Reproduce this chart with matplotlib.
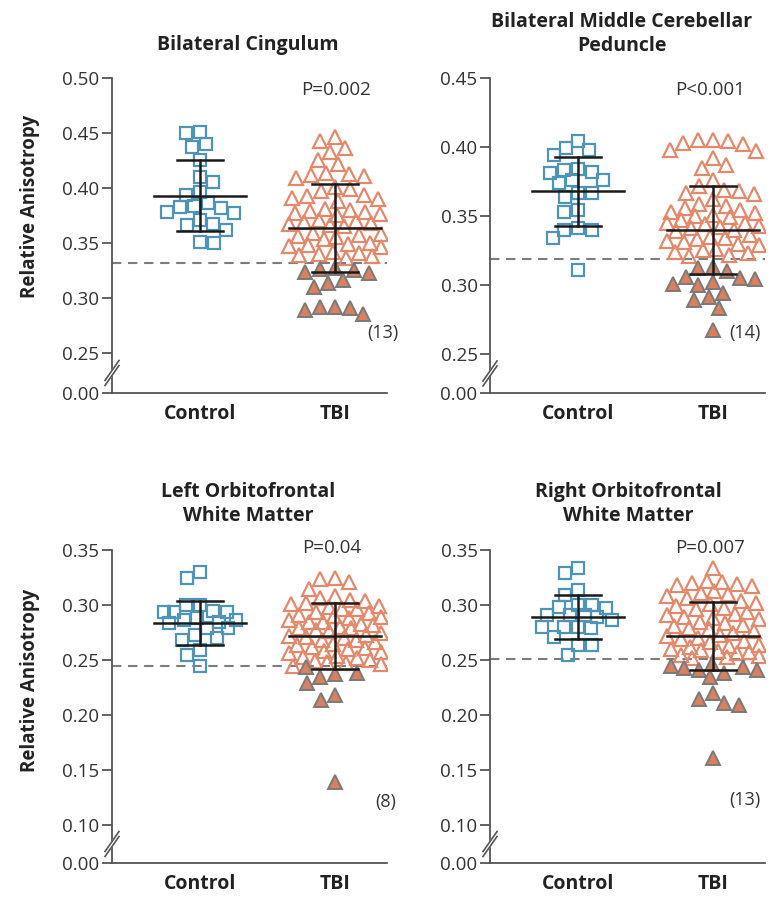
import numpy as np
import matplotlib
matplotlib.use("Agg")
import matplotlib.pyplot as plt

plt.rcParams['font.family'] = ['Open Sans', 'DejaVu Sans']

# ---------------- data ----------------
titles = ["Bilateral Cingulum",
          "Bilateral Middle Cerebellar\nPeduncle",
          "Left Orbitofrontal\nWhite Matter",
          "Right Orbitofrontal\nWhite Matter"]
categories = ["Control", "TBI"]
p_labels = ["P=0.002", "P<0.001", "P=0.04", "P=0.007"]
abnormal_labels = ["(13)", "(14)", "(8)", "(13)"]
thresholds = [0.332, 0.319, 0.2445, 0.251]

ctrl_cingulum = [0.451, 0.450, 0.440, 0.437, 0.425, 0.410, 0.405, 0.396, 0.394, 0.384, 0.386,
                 0.383, 0.382, 0.377, 0.378, 0.371, 0.367, 0.362, 0.366, 0.351, 0.350]
tbi_open_cingulum = [0.446, 0.443, 0.436, 0.433, 0.425, 0.422, 0.414, 0.412, 0.411, 0.413,
                     0.409, 0.401, 0.399, 0.397, 0.393, 0.391, 0.394, 0.388, 0.390, 0.380,
                     0.378, 0.377, 0.381, 0.375, 0.379, 0.376, 0.369, 0.367, 0.371, 0.366,
                     0.368, 0.365, 0.370, 0.358, 0.356, 0.359, 0.355, 0.357, 0.354, 0.349,
                     0.347, 0.350, 0.346, 0.348, 0.341, 0.339, 0.338, 0.342, 0.336, 0.340]
tbi_low_cingulum = [0.327, 0.325, 0.324, 0.326, 0.323, 0.316, 0.314, 0.310,
                    0.292, 0.291, 0.292, 0.285, 0.289]

ctrl_mcp = [0.404, 0.399, 0.398, 0.394, 0.383, 0.381, 0.382, 0.384, 0.374, 0.376, 0.376,
            0.364, 0.367, 0.367, 0.353, 0.354, 0.340, 0.340, 0.334, 0.341, 0.311]
tbi_open_mcp = [0.405, 0.404, 0.403, 0.405, 0.402, 0.397, 0.398, 0.392, 0.387, 0.385,
                0.376, 0.372, 0.368, 0.369, 0.366, 0.367, 0.362, 0.359, 0.357, 0.353,
                0.354, 0.352, 0.349, 0.350, 0.356, 0.351, 0.347, 0.345, 0.343, 0.342,
                0.340, 0.345, 0.341, 0.339, 0.344, 0.336, 0.334, 0.333, 0.330, 0.331,
                0.335, 0.329, 0.332, 0.326, 0.324, 0.323, 0.325, 0.321, 0.322]
tbi_low_mcp = [0.313, 0.312, 0.302, 0.305, 0.300, 0.304, 0.301, 0.289, 0.294, 0.291,
               0.283, 0.267, 0.310, 0.306]

ctrl_lofc = [0.330, 0.325, 0.300, 0.300, 0.294, 0.295, 0.294, 0.294, 0.286, 0.286, 0.288,
             0.285, 0.284, 0.279, 0.279, 0.273, 0.270, 0.268, 0.259, 0.255, 0.245]
tbi_open_lofc = [0.325, 0.324, 0.321, 0.315, 0.308, 0.306, 0.305, 0.304, 0.302, 0.301,
                 0.299, 0.298, 0.296, 0.296, 0.294, 0.293, 0.291, 0.290, 0.289, 0.288,
                 0.286, 0.285, 0.285, 0.283, 0.282, 0.280, 0.279, 0.279, 0.277, 0.276,
                 0.275, 0.273, 0.272, 0.271, 0.270, 0.268, 0.268, 0.266, 0.265, 0.264,
                 0.262, 0.261, 0.260, 0.258, 0.257, 0.256, 0.254, 0.253, 0.252, 0.250,
                 0.249, 0.248, 0.247, 0.246, 0.245]
tbi_low_lofc = [0.238, 0.235, 0.244, 0.237, 0.229, 0.218, 0.214, 0.139]

ctrl_rofc = [0.334, 0.329, 0.314, 0.309, 0.298, 0.300, 0.297, 0.300, 0.286, 0.289, 0.291,
             0.291, 0.291, 0.280, 0.280, 0.279, 0.280, 0.271, 0.264, 0.264, 0.255]
tbi_open_rofc = [0.334, 0.322, 0.321, 0.320, 0.319, 0.318, 0.317, 0.313, 0.311, 0.310,
                 0.308, 0.306, 0.304, 0.302, 0.301, 0.299, 0.297, 0.296, 0.294, 0.292,
                 0.291, 0.289, 0.288, 0.287, 0.285, 0.284, 0.282, 0.281, 0.279, 0.278,
                 0.276, 0.275, 0.273, 0.272, 0.270, 0.269, 0.267, 0.266, 0.264, 0.263,
                 0.262, 0.260, 0.259, 0.258, 0.257, 0.256, 0.255, 0.254, 0.253, 0.252]
tbi_low_rofc = [0.244, 0.241, 0.235, 0.241, 0.245, 0.243, 0.220, 0.211, 0.209, 0.215,
                0.161, 0.238, 0.246]

ctrl_mean = [0.393, 0.368, 0.284, 0.289]
ctrl_sd = [0.032, 0.025, 0.020, 0.020]
tbi_mean = [0.364, 0.340, 0.272, 0.272]
tbi_sd = [0.040, 0.032, 0.030, 0.031]

yticks_top = [[0.25, 0.30, 0.35, 0.40, 0.45, 0.50],
              [0.25, 0.30, 0.35, 0.40, 0.45],
              [0.10, 0.15, 0.20, 0.25, 0.30, 0.35],
              [0.10, 0.15, 0.20, 0.25, 0.30, 0.35]]
zero_label = "0.00"

controls = [ctrl_cingulum, ctrl_mcp, ctrl_lofc, ctrl_rofc]
tbi_open = [tbi_open_cingulum, tbi_open_mcp, tbi_open_lofc, tbi_open_rofc]
tbi_low = [tbi_low_cingulum, tbi_low_mcp, tbi_low_lofc, tbi_low_rofc]

# ---------------- layout ----------------
W, H = 780, 897
fig = plt.figure(figsize=(W / 100, H / 100), dpi=100)

# axes boxes in pixels: left, right, top, bottom
boxes = [(112, 387, 78, 393), (490, 765, 78, 393),
         (112, 387, 550, 863), (490, 765, 550, 863)]
# y value shown at the bottom (the "0.00" position, below the axis break)
ybottoms = [0.2136, 0.2217, 0.0655, 0.0655]
xlim = (-0.653, 1.388)

BLUE = "#4f93b6"
CORAL = "#e2896c"
CORAL_FILL = "#d9805f"
GREY_EDGE = "#7a7a7a"
AXC = "#555555"
TXT = "#333333"


def swarm(ypix, max_half, min_dist, step=1.0):
    n = len(ypix)
    offs = np.zeros(n)
    placed = []
    base = np.arange(step, max_half + step, step)
    order = np.argsort(-np.asarray(ypix))
    for k, i in enumerate(order):
        sgn = 1 if k % 2 == 0 else -1
        cands = [0.0]
        for b in base:
            cands += [sgn * b, -sgn * b]
        y = ypix[i]
        best, best_c, best_d = None, 0.0, -1
        for c in cands:
            if placed:
                P = np.array(placed)
                d = np.min(np.hypot(P[:, 0] - c, P[:, 1] - y))
            else:
                d = np.inf
            if d >= min_dist:
                best = c
                break
            if d > best_d:
                best_d, best_c = d, c
        if best is None:
            best = best_c
        offs[i] = best
        placed.append((best, y))
    return offs


for p in range(4):
    L, R, T, B = boxes[p]
    ax = fig.add_axes([L / W, 1 - B / H, (R - L) / W, (B - T) / H])
    ylo = ybottoms[p]
    yhi = yticks_top[p][-1]
    ax.set_xlim(*xlim)
    ax.set_ylim(ylo, yhi)
    ax.patch.set_alpha(0)
    for s in ["top", "right"]:
        ax.spines[s].set_visible(False)
    for s in ["left", "bottom"]:
        ax.spines[s].set_color(AXC)
        ax.spines[s].set_linewidth(1.3)

    ax.set_yticks([ylo] + yticks_top[p])
    ax.set_yticklabels([zero_label] + ["%.2f" % v for v in yticks_top[p]])
    ax.tick_params(axis="y", direction="out", length=7, width=1.3, color=AXC,
                   labelsize=13.5, labelcolor=TXT, pad=2)
    ax.set_xticks([0, 1])
    ax.set_xticklabels(categories, fontsize=14, fontweight="bold", color="#222222")
    ax.tick_params(axis="x", length=0, pad=8)

    px_per_y = (B - T) / (yhi - ylo)
    x_per_px = (xlim[1] - xlim[0]) / (R - L)

    # threshold line
    ax.axhline(thresholds[p], color="#7d7d7d", lw=1.5, ls=(0, (4.5, 3.2)), zorder=1)

    # control squares
    cv = np.asarray(controls[p])
    cx = swarm(cv * px_per_y, 36, 13.5) * x_per_px
    ax.plot(0 + cx, cv, ls="none", marker="s", ms=8.6, mfc="none", mec=BLUE,
            mew=1.6, zorder=3)

    # TBI triangles
    tv_open = np.asarray(tbi_open[p])
    tv_low = np.asarray(tbi_low[p])
    allv = np.concatenate([tv_open, tv_low])
    tx = swarm(allv * px_per_y, 46, 14.5) * x_per_px
    n_open = len(tv_open)
    ax.plot(1 + tx[:n_open], tv_open, ls="none", marker="^", ms=10, mfc="none",
            mec=CORAL, mew=1.6, zorder=3)
    ax.plot(1 + tx[n_open:], tv_low, ls="none", marker="^", ms=10, mfc=CORAL_FILL,
            mec=GREY_EDGE, mew=1.4, zorder=3)

    # mean +/- SD
    for xc, m, sd in [(0, ctrl_mean[p], ctrl_sd[p]), (1, tbi_mean[p], tbi_sd[p])]:
        hw_mean = 46 * x_per_px
        hw_cap = 23 * x_per_px
        ax.plot([xc - hw_mean, xc + hw_mean], [m, m], color="#1a1a1a", lw=1.8, zorder=5)
        ax.plot([xc, xc], [m - sd, m + sd], color="#1a1a1a", lw=1.8, zorder=5)
        for yy in (m - sd, m + sd):
            ax.plot([xc - hw_cap, xc + hw_cap], [yy, yy], color="#1a1a1a", lw=1.8, zorder=5)

    # axis break marks on the y axis
    brk_y = (ylo + yticks_top[p][0]) / 2
    yb = (brk_y - ylo) / (yhi - ylo)
    hpx, vpx = 1.0 / (R - L), 1.0 / (B - T)
    gap = 5
    dx, dy = 7, 10
    poly_x = [-dx * hpx, dx * hpx, dx * hpx, -dx * hpx]
    poly_y = [yb - dy * vpx - gap * vpx / 2, yb + dy * vpx - gap * vpx / 2,
              yb + dy * vpx + gap * vpx / 2, yb - dy * vpx + gap * vpx / 2]
    ax.fill(poly_x, poly_y, color="white", transform=ax.transAxes, clip_on=False, zorder=6)
    for off in (-gap / 2, gap / 2):
        ax.plot([-dx * hpx, dx * hpx],
                [yb - dy * vpx + off * vpx, yb + dy * vpx + off * vpx],
                color=AXC, lw=1.2, transform=ax.transAxes, clip_on=False, zorder=7)

# titles
title_pos = [(248, 45), (622, 34), (248, 504), (628, 504)]
for (x, y), t in zip(title_pos, titles):
    fig.text(x / W, 1 - y / H, t, ha="center", va="center", fontsize=14,
             fontweight="bold", color="#222222", linespacing=1.3)

# P values
p_pos = [(336, 90), (710, 90), (332, 548), (710, 548)]
for (x, y), t in zip(p_pos, p_labels):
    fig.text(x / W, 1 - y / H, t, ha="center", va="center", fontsize=13.5, color=TXT)

# abnormal counts
a_pos = [(383, 333), (745, 333), (386, 802), (745, 800)]
for (x, y), t in zip(a_pos, abnormal_labels):
    fig.text(x / W, 1 - y / H, t, ha="center", va="center", fontsize=13, color=TXT)

# y labels
for y in (206, 680):
    fig.text(30 / W, 1 - y / H, "Relative Anisotropy", rotation=90, ha="center",
             va="center", fontsize=13.5, fontweight="bold", color="#222222")

fig.savefig("out.png", dpi=100, facecolor="white")
